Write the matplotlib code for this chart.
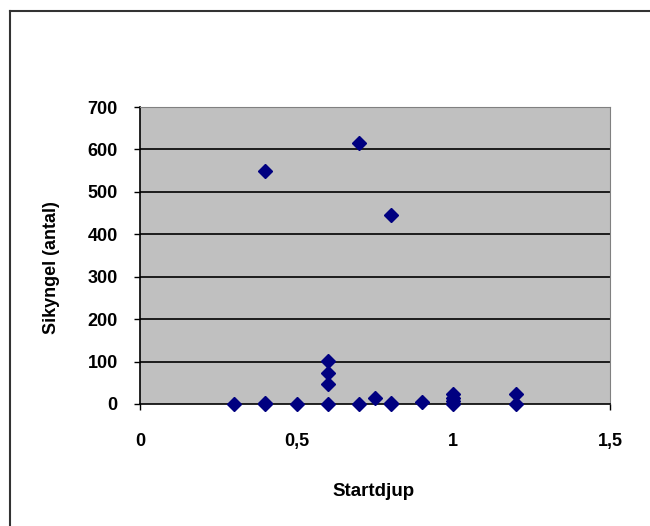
import numpy as np
import matplotlib
matplotlib.use("Agg")
from matplotlib import pyplot as plt
from matplotlib.lines import Line2D

# start depth (m) and number of pike fry caught
startdjup = [0.3, 0.4, 0.4, 0.4, 0.5, 0.6, 0.6, 0.6, 0.6, 0.7, 0.7,
             0.75, 0.8, 0.8, 0.8, 0.9, 1.0, 1.0, 1.0, 1.0, 1.2, 1.2]
sikyngel = [0, 0, 2, 548, 0, 0, 47, 73, 102, 0, 615,
            13, 0, 3, 445, 5, 0, 8, 14, 24, 0, 24]

x_ticks = [0, 0.5, 1, 1.5]
x_ticklabels = ["0", "0,5", "1", "1,5"]
y_ticks = [0, 100, 200, 300, 400, 500, 600, 700]

plt.rcParams['font.family'] = ['Liberation Sans', 'DejaVu Sans']

W, H = 650, 526
fig = plt.figure(figsize=(W / 100, H / 100), dpi=100)

# chart border (left and top edge of the chart frame)
fig.add_artist(Line2D([9.5 / W, 9.5 / W], [0, 1 - 11 / H], transform=fig.transFigure,
                      color="#333333", lw=1.5))
fig.add_artist(Line2D([9.5 / W, 1], [1 - 11 / H, 1 - 11 / H], transform=fig.transFigure,
                      color="#333333", lw=1.5))

ax = fig.add_axes([140 / W, 1 - 404 / H, 470 / W, 297 / H])
ax.set_facecolor("#c0c0c0")
ax.set_xlim(0, 1.5)
ax.set_ylim(0, 700)

for y in y_ticks[1:]:
    ax.axhline(y, color="black", lw=1.2, zorder=1)

ax.plot(startdjup, sikyngel, linestyle="none", marker="D", markersize=7.5,
        color="#000080", clip_on=False, zorder=3)

ax.set_xticks(x_ticks)
ax.set_xticklabels(x_ticklabels)
ax.set_yticks(y_ticks)
ax.tick_params(axis="both", direction="out", length=4, width=1, color="black",
               labelsize=13)
ax.tick_params(axis="x", pad=17)
ax.tick_params(axis="y", pad=12)
for lab in ax.get_xticklabels() + ax.get_yticklabels():
    lab.set_fontweight("bold")

ax.spines["left"].set_color("black")
ax.spines["bottom"].set_color("black")
ax.spines["left"].set_linewidth(1.2)
ax.spines["bottom"].set_linewidth(1.2)
ax.spines["top"].set_color("#808080")
ax.spines["right"].set_color("#808080")

fig.text(52 / W, 1 - 268 / H, "Sikyngel (antal)", rotation=90, ha="center",
         va="center", fontsize=13, fontweight="bold")
fig.text(374 / W, 1 - 491 / H, "Startdjup", ha="center", va="center",
         fontsize=13.5, fontweight="bold")

fig.savefig("out.png", dpi=100)
